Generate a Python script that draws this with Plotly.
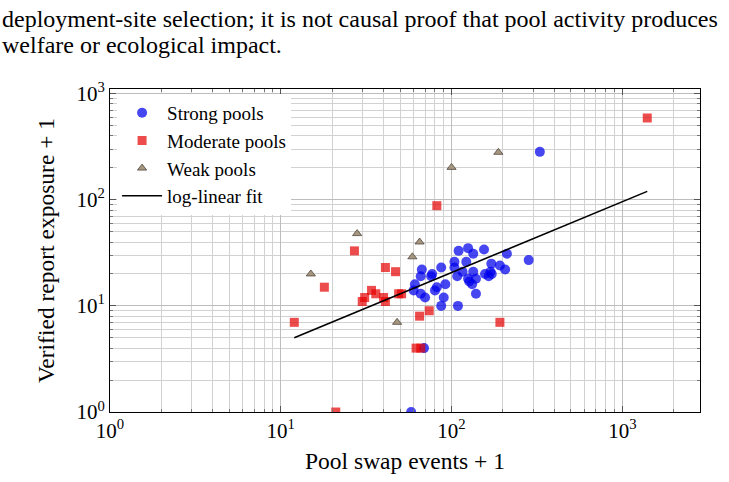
import plotly.graph_objects as go

# ---- data (values as plotted: count + 1) ----
strong_x = [110, 125, 134, 155, 211, 283, 67, 66, 61, 60, 66, 70, 76, 77, 80, 82, 87, 92, 90, 87,
            109, 104, 104, 122, 108, 116, 125, 127, 134, 139, 132, 139, 157, 165, 169, 172, 171,
            192, 206, 329, 58, 69]
strong_y = [33, 35, 31, 34, 31, 27, 22, 19, 16, 14, 13, 12, 19, 20, 14, 15, 23, 16, 12, 10,
            10, 26, 23, 26, 19, 21, 18, 17, 21, 18, 16, 13, 20, 19, 21, 20, 25,
            24, 22, 283, 1, 4]

moderate_x = [27, 41, 47, 18, 34, 36, 31, 30, 40, 41, 49, 51, 12, 65, 74, 192, 82, 1400, 21, 62, 66]
moderate_y = [33, 23, 21, 15, 14, 13, 12, 11, 12, 11, 13, 13, 7, 8, 9, 7, 88, 590, 1, 4, 4]

weak_x = [28, 65, 59, 15, 48, 100, 188]
weak_y = [48, 40, 29, 20, 7, 202, 280]

fit_x = [12, 1400]
fit_y = [5.0, 120.0]

major_vals = [1, 10, 100, 1000]
major_text = ["10<sup>0</sup>", "10<sup>1</sup>", "10<sup>2</sup>", "10<sup>3</sup>"]
minor_vals = [m * 10 ** e for e in range(0, 4) for m in range(2, 10)]

header_lines = [
    "deployment-site selection; it is not causal proof that pool activity produces",
    "welfare or ecological impact.",
]

SERIF = "Liberation Serif, Times New Roman, serif"

fig = go.Figure()
fig.add_trace(go.Scatter(
    x=strong_x, y=strong_y, mode="markers", name="Strong pools",
    marker=dict(symbol="circle", size=10, color="rgba(0,0,235,0.72)", line=dict(width=0)),
))
fig.add_trace(go.Scatter(
    x=moderate_x, y=moderate_y, mode="markers", name="Moderate pools",
    marker=dict(symbol="square", size=9, color="rgba(230,0,0,0.7)", line=dict(width=0)),
))
fig.add_trace(go.Scatter(
    x=weak_x, y=weak_y, mode="markers", name="Weak pools",
    marker=dict(symbol="triangle-up", size=8, color="rgb(165,150,128)",
                line=dict(width=0.8, color="rgb(80,70,60)")),
))
fig.add_trace(go.Scatter(
    x=fit_x, y=fit_y, mode="lines", name="log-linear fit",
    line=dict(color="black", width=1.6),
))

axis_common = dict(
    type="log",
    showline=True, linecolor="black", linewidth=1, mirror="ticks",
    ticks="inside", ticklen=6, tickcolor="#555",
    tickmode="array", tickvals=major_vals, ticktext=major_text,
    showgrid=True, gridcolor="#bdbdbd", gridwidth=1,
    zeroline=False,
    tickfont=dict(family=SERIF, size=21, color="black"),
    minor=dict(tickmode="array", tickvals=minor_vals, ticks="inside", ticklen=3,
               tickcolor="#777", showgrid=True, gridcolor="#d2d2d2", gridwidth=1),
)

fig.update_xaxes(**axis_common, range=[0, 3.455],
                 title=dict(text="Pool swap events + 1", standoff=10,
                            font=dict(family=SERIF, size=23.5, color="black")))
fig.update_yaxes(**axis_common, range=[0, 3.044],
                 title=dict(text="Verified report exposure + 1",
                            font=dict(family=SERIF, size=23.5, color="black")))

for i, line in enumerate(header_lines):
    fig.add_annotation(
        text=line, xref="paper", yref="paper",
        x=-110 / 590, y=(415 - (18 + 27 * i)) / 326,
        xanchor="left", yanchor="middle", showarrow=False,
        font=dict(family=SERIF, size=24, color="black"),
    )

fig.update_layout(
    width=729, height=482,
    margin=dict(l=110, r=29, t=89, b=67),
    paper_bgcolor="white", plot_bgcolor="white",
    showlegend=True,
    legend=dict(x=0.012, y=0.985, xanchor="left", yanchor="top",
                bgcolor="white", borderwidth=0,
                font=dict(family=SERIF, size=19, color="black"),
                itemwidth=40),
)

fig.write_html("out.html")
